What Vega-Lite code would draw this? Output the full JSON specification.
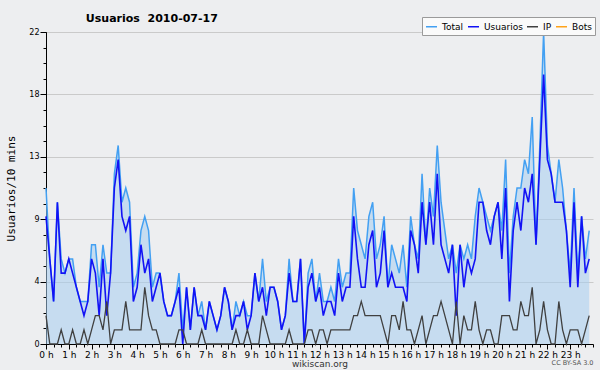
{
  "$schema": "https://vega.github.io/schema/vega-lite/v6.json",
  "width": 547,
  "height": 312,
  "autosize": {"type": "none"},
  "padding": {"left": 46, "top": 32, "right": 7, "bottom": 26},
  "background": "#EDEEF0",
  "config": {"view": {"stroke": null, "fill": "#EDEEF0"}},
  "title": {"text": "Usuarios \u00a02010-07-17", "anchor": "start", "dx": 80, "offset": -7, "font": "DejaVu Sans", "fontSize": 11, "fontWeight": "bold", "color": "#000"},
  "data": {"values": [
    {"m":0,"Total":11,"Usuarios":9,"IP":2},{"m":10,"Total":6,"Usuarios":6,"IP":0},{"m":20,"Total":3,"Usuarios":3,"IP":0},{"m":30,"Total":10,"Usuarios":10,"IP":0},{"m":40,"Total":6,"Usuarios":5,"IP":1},{"m":50,"Total":5,"Usuarios":5,"IP":0},
    {"m":60,"Total":6,"Usuarios":6,"IP":0},{"m":70,"Total":6,"Usuarios":5,"IP":1},{"m":80,"Total":4,"Usuarios":4,"IP":0},{"m":90,"Total":3,"Usuarios":3,"IP":0},{"m":100,"Total":3,"Usuarios":2,"IP":1},{"m":110,"Total":3,"Usuarios":3,"IP":0},
    {"m":120,"Total":7,"Usuarios":6,"IP":1},{"m":130,"Total":7,"Usuarios":5,"IP":2},{"m":140,"Total":4,"Usuarios":2,"IP":2},{"m":150,"Total":7,"Usuarios":6,"IP":1},{"m":160,"Total":5,"Usuarios":2,"IP":3},{"m":170,"Total":5,"Usuarios":5,"IP":0},
    {"m":180,"Total":12,"Usuarios":11,"IP":1},{"m":190,"Total":14,"Usuarios":13,"IP":1},{"m":200,"Total":10,"Usuarios":9,"IP":1},{"m":210,"Total":11,"Usuarios":8,"IP":3},{"m":220,"Total":10,"Usuarios":9,"IP":1},{"m":230,"Total":4,"Usuarios":3,"IP":1},
    {"m":240,"Total":5,"Usuarios":4,"IP":1},{"m":250,"Total":8,"Usuarios":7,"IP":1},{"m":260,"Total":9,"Usuarios":5,"IP":4},{"m":270,"Total":8,"Usuarios":6,"IP":2},{"m":280,"Total":4,"Usuarios":3,"IP":1},{"m":290,"Total":5,"Usuarios":4,"IP":1},
    {"m":300,"Total":5,"Usuarios":5,"IP":0},{"m":310,"Total":3,"Usuarios":3,"IP":0},{"m":320,"Total":2,"Usuarios":2,"IP":0},{"m":330,"Total":2,"Usuarios":2,"IP":0},{"m":340,"Total":3,"Usuarios":3,"IP":0},{"m":350,"Total":5,"Usuarios":4,"IP":1},
    {"m":360,"Total":1,"Usuarios":0,"IP":1},{"m":370,"Total":4,"Usuarios":4,"IP":0},{"m":380,"Total":1,"Usuarios":1,"IP":0},{"m":390,"Total":4,"Usuarios":4,"IP":0},{"m":400,"Total":2,"Usuarios":2,"IP":0},{"m":410,"Total":3,"Usuarios":2,"IP":1},
    {"m":420,"Total":1,"Usuarios":1,"IP":0},{"m":430,"Total":3,"Usuarios":3,"IP":0},{"m":440,"Total":2,"Usuarios":2,"IP":0},{"m":450,"Total":1,"Usuarios":1,"IP":0},{"m":460,"Total":2,"Usuarios":2,"IP":0},{"m":470,"Total":4,"Usuarios":4,"IP":0},
    {"m":480,"Total":3,"Usuarios":3,"IP":0},{"m":490,"Total":1,"Usuarios":1,"IP":0},{"m":500,"Total":3,"Usuarios":2,"IP":1},{"m":510,"Total":2,"Usuarios":2,"IP":0},{"m":520,"Total":3,"Usuarios":3,"IP":0},{"m":530,"Total":2,"Usuarios":1,"IP":1},
    {"m":540,"Total":2,"Usuarios":2,"IP":0},{"m":550,"Total":5,"Usuarios":5,"IP":0},{"m":560,"Total":3,"Usuarios":3,"IP":0},{"m":570,"Total":6,"Usuarios":4,"IP":2},{"m":580,"Total":3,"Usuarios":2,"IP":1},{"m":590,"Total":4,"Usuarios":4,"IP":0},
    {"m":600,"Total":4,"Usuarios":4,"IP":0},{"m":610,"Total":3,"Usuarios":3,"IP":0},{"m":620,"Total":1,"Usuarios":1,"IP":0},{"m":630,"Total":2,"Usuarios":2,"IP":0},{"m":640,"Total":6,"Usuarios":5,"IP":1},{"m":650,"Total":3,"Usuarios":3,"IP":0},
    {"m":660,"Total":3,"Usuarios":3,"IP":0},{"m":670,"Total":6,"Usuarios":6,"IP":0},{"m":680,"Total":0,"Usuarios":0,"IP":0},{"m":690,"Total":5,"Usuarios":4,"IP":1},{"m":700,"Total":6,"Usuarios":5,"IP":1},{"m":710,"Total":3,"Usuarios":3,"IP":0},
    {"m":720,"Total":5,"Usuarios":4,"IP":1},{"m":730,"Total":3,"Usuarios":2,"IP":1},{"m":740,"Total":3,"Usuarios":3,"IP":0},{"m":750,"Total":4,"Usuarios":3,"IP":1},{"m":760,"Total":3,"Usuarios":2,"IP":1},{"m":770,"Total":6,"Usuarios":5,"IP":1},
    {"m":780,"Total":4,"Usuarios":3,"IP":1},{"m":790,"Total":5,"Usuarios":4,"IP":1},{"m":800,"Total":5,"Usuarios":4,"IP":1},{"m":810,"Total":11,"Usuarios":9,"IP":2},{"m":820,"Total":8,"Usuarios":6,"IP":2},{"m":830,"Total":7,"Usuarios":4,"IP":3},
    {"m":840,"Total":6,"Usuarios":4,"IP":2},{"m":850,"Total":9,"Usuarios":7,"IP":2},{"m":860,"Total":10,"Usuarios":8,"IP":2},{"m":870,"Total":6,"Usuarios":4,"IP":2},{"m":880,"Total":7,"Usuarios":5,"IP":2},{"m":890,"Total":9,"Usuarios":8,"IP":1},
    {"m":900,"Total":4,"Usuarios":4,"IP":0},{"m":910,"Total":7,"Usuarios":5,"IP":2},{"m":920,"Total":6,"Usuarios":4,"IP":2},{"m":930,"Total":5,"Usuarios":4,"IP":1},{"m":940,"Total":7,"Usuarios":4,"IP":3},{"m":950,"Total":4,"Usuarios":3,"IP":1},
    {"m":960,"Total":9,"Usuarios":8,"IP":1},{"m":970,"Total":7,"Usuarios":7,"IP":0},{"m":980,"Total":6,"Usuarios":5,"IP":1},{"m":990,"Total":12,"Usuarios":10,"IP":2},{"m":1000,"Total":7,"Usuarios":7,"IP":0},{"m":1010,"Total":11,"Usuarios":10,"IP":1},
    {"m":1020,"Total":9,"Usuarios":7,"IP":2},{"m":1030,"Total":14,"Usuarios":12,"IP":2},{"m":1040,"Total":10,"Usuarios":7,"IP":3},{"m":1050,"Total":8,"Usuarios":6,"IP":2},{"m":1060,"Total":6,"Usuarios":5,"IP":1},{"m":1070,"Total":7,"Usuarios":7,"IP":0},
    {"m":1080,"Total":5,"Usuarios":2,"IP":3},{"m":1090,"Total":7,"Usuarios":7,"IP":0},{"m":1100,"Total":6,"Usuarios":4,"IP":2},{"m":1110,"Total":7,"Usuarios":6,"IP":1},{"m":1120,"Total":6,"Usuarios":5,"IP":1},{"m":1130,"Total":9,"Usuarios":6,"IP":3},
    {"m":1140,"Total":11,"Usuarios":10,"IP":1},{"m":1150,"Total":10,"Usuarios":10,"IP":0},{"m":1160,"Total":9,"Usuarios":8,"IP":1},{"m":1170,"Total":8,"Usuarios":7,"IP":1},{"m":1180,"Total":9,"Usuarios":9,"IP":0},{"m":1190,"Total":10,"Usuarios":10,"IP":0},
    {"m":1200,"Total":8,"Usuarios":6,"IP":2},{"m":1210,"Total":13,"Usuarios":11,"IP":2},{"m":1220,"Total":5,"Usuarios":3,"IP":2},{"m":1230,"Total":9,"Usuarios":8,"IP":1},{"m":1240,"Total":11,"Usuarios":10,"IP":1},{"m":1250,"Total":11,"Usuarios":8,"IP":3},
    {"m":1260,"Total":13,"Usuarios":11,"IP":2},{"m":1270,"Total":12,"Usuarios":10,"IP":2},{"m":1280,"Total":16,"Usuarios":12,"IP":4},{"m":1290,"Total":7,"Usuarios":7,"IP":0},{"m":1300,"Total":14,"Usuarios":13,"IP":1},{"m":1310,"Total":22,"Usuarios":19,"IP":3},
    {"m":1320,"Total":14,"Usuarios":13,"IP":1},{"m":1330,"Total":12,"Usuarios":12,"IP":0},{"m":1340,"Total":10,"Usuarios":10,"IP":0},{"m":1350,"Total":13,"Usuarios":10,"IP":3},{"m":1360,"Total":11,"Usuarios":10,"IP":1},{"m":1370,"Total":8,"Usuarios":8,"IP":0},
    {"m":1380,"Total":5,"Usuarios":4,"IP":1},{"m":1390,"Total":11,"Usuarios":10,"IP":1},{"m":1400,"Total":5,"Usuarios":4,"IP":1},{"m":1410,"Total":9,"Usuarios":9,"IP":0},{"m":1420,"Total":6,"Usuarios":5,"IP":1},{"m":1430,"Total":8,"Usuarios":6,"IP":2}
  ]},
  "resolve": {"axis": {"x": "independent", "y": "independent"}},
  "layer": [
    {
      "mark": {"type": "area", "color": "#A6CDF0", "opacity": 0.55},
      "encoding": {
        "x": {"field": "m", "type": "quantitative", "scale": {"domain": [0, 1440], "nice": false, "zero": false},
          "axis": {"orient": "bottom", "values": [0,60,120,180,240,300,360,420,480,540,600,660,720,780,840,900,960,1020,1080,1140,1200,1260,1320,1380],
            "labelExpr": "datum.value / 60 + ' h'", "labelFont": "DejaVu Sans", "labelFontSize": 9, "labelColor": "#000", "labelPadding": 1, "labelFlush": false, "labelOverlap": false,
            "tickSize": 5, "tickColor": "#000", "domainColor": "#000", "domainWidth": 1, "grid": false,
            "title": "wikiscan.org", "titleFont": "DejaVu Sans", "titleFontSize": 9, "titleFontWeight": "normal", "titleColor": "#333", "titlePadding": 0}},
        "y": {"field": "Total", "type": "quantitative", "scale": {"domain": [0, 22], "nice": false},
          "axis": {"orient": "left", "values": [0, 4.4, 8.8, 13.2, 17.6, 22], "format": ".0f", "labelFont": "DejaVu Sans", "labelFontSize": 8, "labelColor": "#000", "labelPadding": 1,
            "tickSize": 6, "tickColor": "#000", "domainColor": "#000", "grid": true, "gridColor": "#CACACA", "gridWidth": 1,
            "title": "Usuarios/10 mins", "titleFont": "DejaVu Sans Mono", "titleFontSize": 11, "titleFontWeight": "normal", "titleColor": "#000", "titlePadding": 12}}
      }
    },
    {
      "mark": {"type": "line", "strokeWidth": 1.5},
      "encoding": {
        "x": {"field": "m", "type": "quantitative", "axis": null},
        "y": {"field": "Total", "type": "quantitative", "axis": null},
        "color": {"datum": "Total", "type": "nominal",
          "scale": {"domain": ["Total", "Usuarios", "IP", "Bots"], "range": ["#43A0F2", "#1212F5", "#404040", "#FFA31A"]},
          "legend": {"orient": "none", "legendX": 376, "legendY": -15, "direction": "horizontal", "columns": 4, "title": null,
            "symbolType": "stroke", "symbolSize": 121, "symbolStrokeWidth": 1.5, "labelFont": "DejaVu Sans", "labelFontSize": 9, "labelColor": "#000",
            "labelOffset": 4, "columnPadding": 1, "padding": 3, "fillColor": "#FAFAFA", "strokeColor": "#9A9A9A"}}
      }
    },
    {
      "mark": {"type": "line", "strokeWidth": 1.6},
      "encoding": {
        "x": {"field": "m", "type": "quantitative", "axis": null},
        "y": {"field": "Usuarios", "type": "quantitative", "axis": null},
        "color": {"datum": "Usuarios", "type": "nominal"}
      }
    },
    {
      "mark": {"type": "line", "strokeWidth": 1.3},
      "encoding": {
        "x": {"field": "m", "type": "quantitative",
          "axis": {"orient": "bottom", "values": [0,20,40,60,80,100,120,140,160,180,200,220,240,260,280,300,320,340,360,380,400,420,440,460,480,500,520,540,560,580,600,620,640,660,680,700,720,740,760,780,800,820,840,860,880,900,920,940,960,980,1000,1020,1040,1060,1080,1100,1120,1140,1160,1180,1200,1220,1240,1260,1280,1300,1320,1340,1360,1380,1400,1420,1440],
            "labels": false, "domain": false, "grid": false, "tickSize": 3, "tickColor": "#000",
            "title": "CC BY-SA 3.0", "titleAnchor": "end", "titleFont": "DejaVu Sans", "titleFontSize": 6.5, "titleFontWeight": "normal", "titleColor": "#555", "titlePadding": 12}},
        "y": {"field": "IP", "type": "quantitative",
          "axis": {"orient": "left", "values": [0,1.1,2.2,3.3,4.4,5.5,6.6,7.7,8.8,9.9,11,12.1,13.2,14.3,15.4,16.5,17.6,18.7,19.8,20.9,22],
            "labels": false, "domain": false, "grid": false, "tickSize": 3, "tickColor": "#000", "title": null}},
        "color": {"datum": "IP", "type": "nominal"}
      }
    }
  ]
}
